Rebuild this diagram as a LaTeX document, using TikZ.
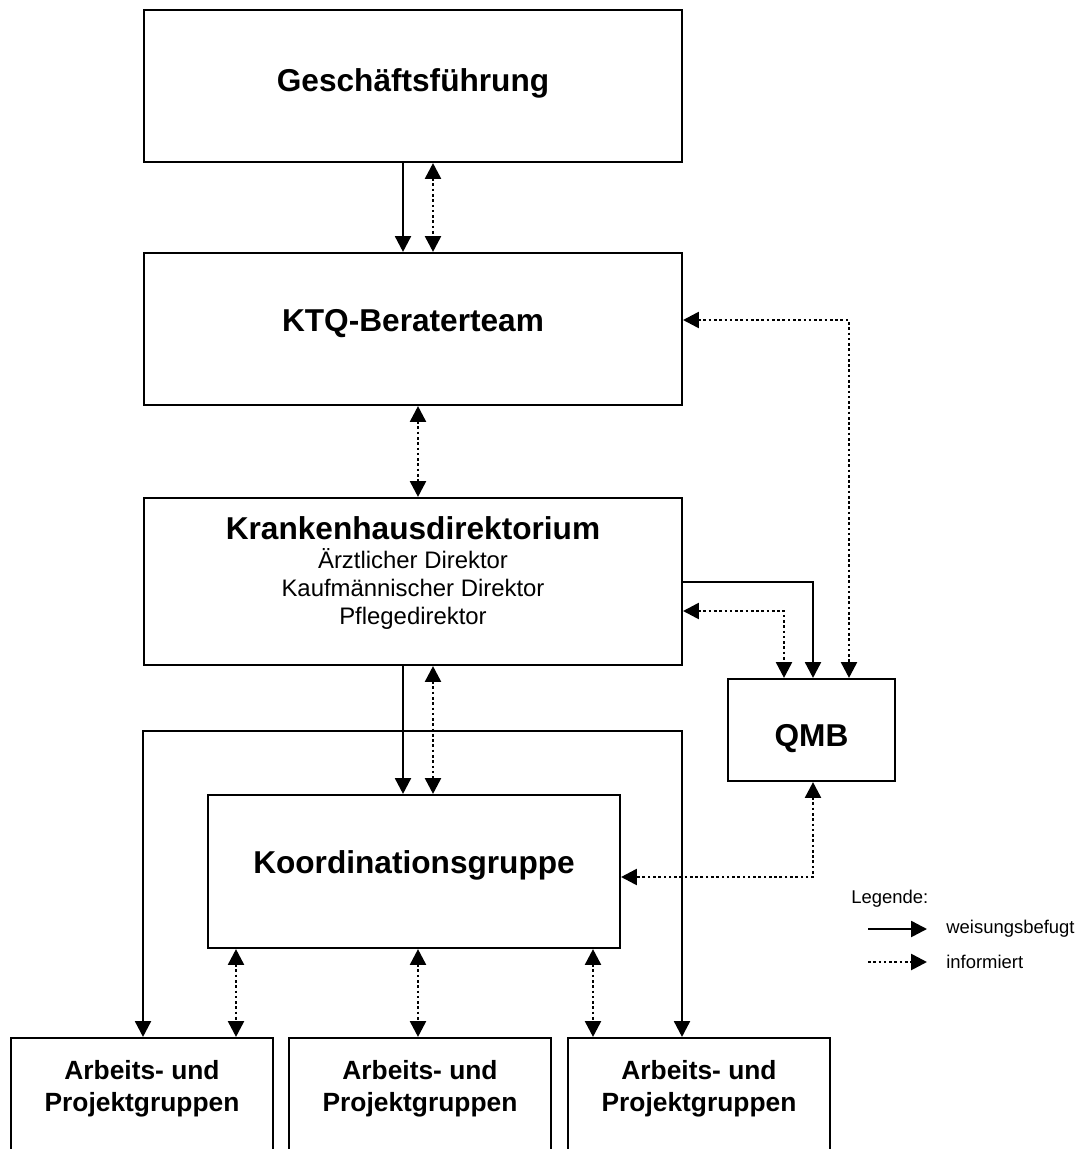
\documentclass[tikz,border=0pt]{standalone}
\usepackage{fontspec}
\setmainfont{Liberation Sans}
\usetikzlibrary{arrows.meta}
\begin{document}
\begin{tikzpicture}[x=0.02cm,y=-0.02cm,>={Triangle[length=9pt,width=9pt]}, line join=miter,
	box/.style={draw,line width=1.2pt,inner sep=0pt},
	titel/.style={font=\fontsize{18}{21.6}\selectfont\bfseries,text height=12.9pt,text depth=0pt,inner sep=0pt},
	wb/.style={line width=1.4pt},
	inf/.style={line width=1.5pt,dash pattern=on 1.5pt off 1.5pt}]
	\useasboundingbox (0,0) rectangle (1089,1149);
	\clip (0,0) rectangle (1089,1149);
	%Kästen
	\node[box,minimum width=10.76cm,minimum height=3.04cm] (gf) at (413,86) {};
	\node[box,minimum width=10.76cm,minimum height=3.04cm] (ktq) at (413,329) {};
	\node[box,minimum width=10.76cm,minimum height=3.34cm] (khd) at (413,581.5) {};
	\node[box,minimum width=3.34cm,minimum height=2.04cm] (qmb) at (811.5,730) {};
	\node[box,minimum width=8.24cm,minimum height=3.06cm] (kg) at (414,871.5) {};
	\node[box,minimum width=5.24cm,minimum height=2.48cm] (ag1) at (142,1100) {};
	\node[box,minimum width=5.24cm,minimum height=2.48cm] (ag2) at (420,1100) {};
	\node[box,minimum width=5.24cm,minimum height=2.48cm] (ag3) at (699,1100) {};
	%Texte
	\node[titel] (gft) at (413,80) {Geschäftsführung};
	\node[titel] (ktqt) at (413,320) {KTQ-Beraterteam};
	\node[titel] (khdt) at (413,528) {Krankenhausdirektorium};
	\node[font=\fontsize{13.6}{16.2}\selectfont,align=center,inner sep=0pt] (khds) at (413,589) {Ärztlicher Direktor\\Kaufmännischer Direktor\\Pflegedirektor};
	\node[titel] (qmbt) at (811.5,735) {QMB};
	\node[titel] (kgt) at (414,862) {Koordinationsgruppe};
	\foreach \n in {1,2,3}
		\node[font=\fontsize{15}{18.1}\selectfont\bfseries,align=center,inner sep=0pt] (ag\n t) at (ag\n |- 0,1089) {Arbeits- und\\Projektgruppen};
	%Verbindungen
	\draw[wb,->] (gf.south -| 403,0) -- (ktq.north -| 403,0);
	\draw[inf,<->] (gf.south -| 433,0) -- (ktq.north -| 433,0);
	\draw[inf,<->] (ktq.south -| 418,0) -- (khd.north -| 418,0);
	\draw[inf,<->] (ktq.east |- 0,320) -| (qmb.north -| 849,0);
	\draw[wb,->] (khd.east |- 0,582) -| (qmb.north -| 813,0);
	\draw[inf,<->] (khd.east |- 0,611) -| (qmb.north -| 784,0);
	\draw[wb,->] (khd.south -| 403,0) -- (kg.north -| 403,0);
	\draw[inf,<->] (khd.south -| 433,0) -- (kg.north -| 433,0);
	\draw[inf,<->] (qmb.south -| 813,0) |- (kg.east |- 0,877);
	\coordinate (rahmen) at (682,731);
	\draw[wb,<->] (ag1.north -| 143,0) |- (rahmen) -- (ag3.north -| rahmen);
	\draw[inf,<->] (kg.south -| 236,0) -- (ag1.north -| 236,0);
	\draw[inf,<->] (kg.south -| 418,0) -- (ag2.north -| 418,0);
	\draw[inf,<->] (kg.south -| 593,0) -- (ag3.north -| 593,0);
	%Legende
	\node[font=\fontsize{10.5}{12.6}\selectfont,anchor=west,inner sep=0pt] (leg) at (851,899) {Legende:};
	\node[font=\fontsize{10.5}{12.6}\selectfont,anchor=west,inner sep=0pt] (lwb) at (946,929) {weisungsbefugt};
	\node[font=\fontsize{10.5}{12.6}\selectfont,anchor=west,inner sep=0pt] (linf) at (946,962) {informiert};
	\coordinate (lwba) at (868,929);
	\coordinate (linfa) at (868,962);
	\draw[wb,->] (lwba) -- (lwba -| 927,0);
	\draw[inf,->] (linfa) -- (linfa -| 927,0);
\end{tikzpicture}
\end{document}
